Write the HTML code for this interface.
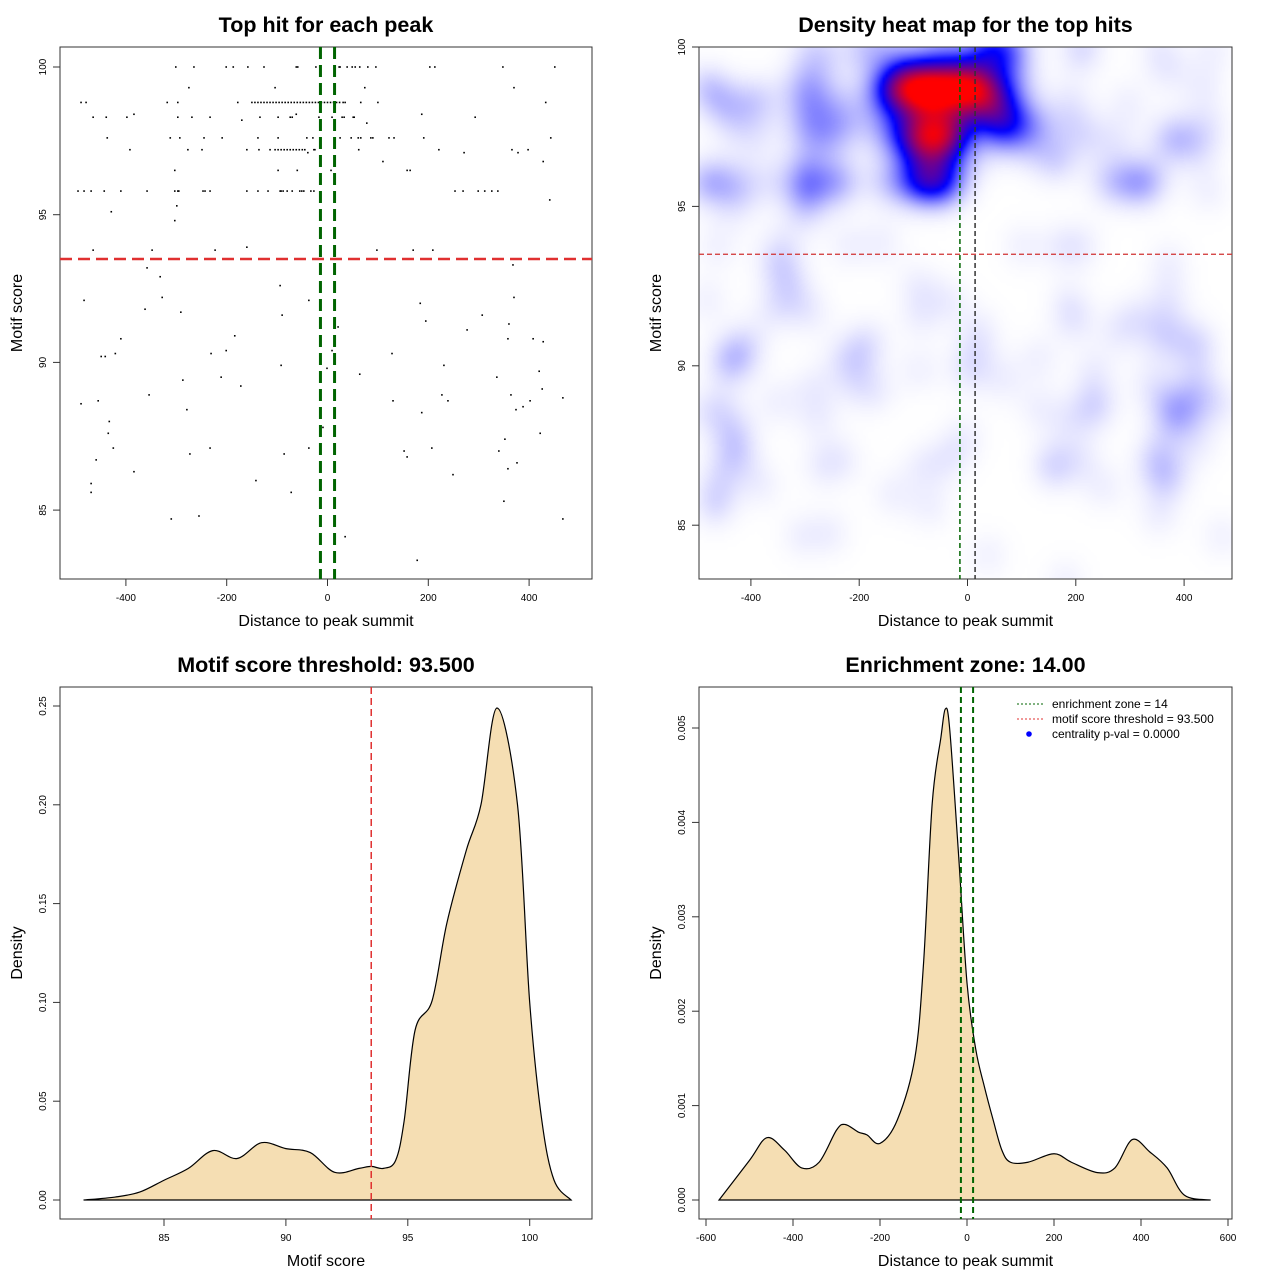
<!DOCTYPE html>
<html><head><meta charset="utf-8"><style>
body{margin:0;background:#fff}
#page{position:relative;width:1280px;height:1280px;overflow:hidden;background:#fff;font-family:"Liberation Sans",sans-serif}
#heat{position:absolute;left:699px;top:47px;width:533px;height:532px}
#ov{position:absolute;left:0;top:0}
</style></head><body>
<div id="page">
<canvas id="heat" width="533" height="532"></canvas>
<svg id="ov" width="1280" height="1280" xmlns="http://www.w3.org/2000/svg"></svg>
</div>
<script>
// ---- data ----
const hits = [
[-301,100],[-265,100],[-201,100],[-187,100],[-158,100],[-126,100],[-62,100],[-59,100],[-23,100],[23,100],[25,100],[39,100],[49,100],[55,100],[64,100],[80,100],[96,100],[203,100],[213,100],[348,100],[451,100],
[-275,99.3],[-104,99.3],[-15,99.3],[74,99.3],[370,99.3],
[-489,98.8],[-479,98.8],[-318,98.8],[-297,98.8],[-178,98.8],[31,98.8],[35,98.8],[66,98.8],[100,98.8],[433,98.8],
[-150,98.8],[-144,98.8],[-138,98.8],[-132,98.8],[-126,98.8],[-120,98.8],[-114,98.8],[-108,98.8],[-102,98.8],[-96,98.8],[-90,98.8],[-84,98.8],[-78,98.8],[-72,98.8],[-66,98.8],[-60,98.8],[-54,98.8],[-48,98.8],[-42,98.8],[-36,98.8],[-30,98.8],[-24,98.8],[-18,98.8],[-12,98.8],[-6,98.8],[0,98.8],[6,98.8],[12,98.8],[18,98.8],[24,98.8],
[-465,98.3],[-439,98.3],[-398,98.3],[-384,98.4],[-297,98.3],[-269,98.3],[-233,98.3],[-170,98.2],[-134,98.3],[-98,98.3],[-74,98.3],[-70,98.3],[-62,98.4],[-17,98.3],[9,98.3],[29,98.3],[33,98.3],[51,98.3],[53,98.3],[78,98.1],[187,98.4],[293,98.3],
[-437,97.6],[-312,97.6],[-293,97.6],[-245,97.6],[-209,97.6],[-138,97.6],[-98,97.6],[-41,97.6],[-29,97.6],[-15,97.6],[25,97.6],[47,97.6],[61,97.6],[66,97.6],[86,97.6],[90,97.6],[122,97.6],[132,97.6],[191,97.6],[443,97.6],
[-392,97.2],[-277,97.2],[-249,97.2],[-160,97.2],[-136,97.2],[-114,97.2],[-45,97.2],[-39,97.1],[-27,97.2],[-25,97.2],[62,97.2],[221,97.2],[271,97.1],[366,97.2],[378,97.1],[398,97.2],
[-104,97.2],[-98,97.2],[-92,97.2],[-86,97.2],[-80,97.2],[-74,97.2],[-68,97.2],[-62,97.2],[-56,97.2],[-50,97.2],
[110,96.8],[428,96.8],
[-303,96.5],[-98,96.5],[-60,96.5],[7,96.5],[158,96.5],[164,96.5],
[-495,95.8],[-483,95.8],[-469,95.8],[-443,95.8],[-410,95.8],[-358,95.8],[-303,95.8],[-297,95.8],[-295,95.8],[-247,95.8],[-243,95.8],[-233,95.8],[-160,95.8],[-138,95.8],[-118,95.8],[-94,95.8],[-92,95.8],[-88,95.8],[-80,95.8],[-70,95.8],[-55,95.8],[-51,95.8],[-47,95.8],[-33,95.8],[-27,95.8],[253,95.8],[269,95.8],[299,95.8],[312,95.8],[326,95.8],[338,95.8],
[441,95.5],[-299,95.3],[-429,95.1],[-303,94.8],[-160,93.9],
[-465,93.8],[-348,93.8],[-223,93.8],[98,93.8],[170,93.8],[209,93.8],
[-358,93.2],[-332,92.9],[-94,92.6],[-483,92.1],[-328,92.2],[-37,92.1],[184,92.0],[370,92.2],[368,93.3],[-362,91.8],[-291,91.7],[-90,91.6],[195,91.4],[307,91.6],[360,91.3],[21,91.2],[277,91.1],[-410,90.8],[-184,90.9],[358,90.8],[408,90.8],[428,90.7],[-449,90.2],[-441,90.2],[-421,90.3],[-231,90.3],[-201,90.4],[9,90.4],[128,90.3],[-92,89.9],[-1,89.8],[231,89.9],[64,89.6],[-287,89.4],[-211,89.5],[-172,89.2],[336,89.5],[420,89.7],[426,89.1],[-354,88.9],[-489,88.6],[-455,88.7],[-279,88.4],[130,88.7],[227,88.9],[239,88.7],[364,88.9],[402,88.7],[467,88.8],[388,88.5],[374,88.4],[187,88.3],[-433,88.0],[-435,87.6],[422,87.6],[-9,87.8],[-425,87.1],[-273,86.9],[-233,87.1],[-86,86.9],[-37,87.1],[152,87.0],[158,86.8],[207,87.1],[352,87.4],[340,87.0],[376,86.6],[358,86.4],[-459,86.7],[-384,86.3],[-142,86.0],[249,86.2],[-469,85.9],[-469,85.6],[-72,85.6],[350,85.3],[-310,84.7],[-255,84.8],[467,84.7],[35,84.1],[178,83.3]
];
const scoreX = [81.7,83,84,85,86,87,88,89,90,91,92,93,93.5,94,94.5,94.85,95.3,96,96.6,97.4,98,98.66,99.5,100,100.5,101,101.7];
const scoreD = [0,0.0015,0.004,0.01,0.016,0.025,0.021,0.029,0.026,0.024,0.014,0.016,0.017,0.016,0.02,0.04,0.086,0.101,0.14,0.177,0.2,0.249,0.2,0.1,0.04,0.01,0];
const distX = [-570,-500,-460,-420,-380,-340,-300,-280,-250,-230,-200,-160,-120,-100,-80,-60,-50,-40,-20,0,20,40,60,80,100,140,200,240,300,340,380,420,460,500,560];
const distD = [0,0.00042,0.00066,0.00053,0.00034,0.0004,0.00074,0.0008,0.00072,0.00069,0.0006,0.00085,0.0015,0.0025,0.0042,0.0049,0.0052,0.005,0.0037,0.0023,0.0016,0.0012,0.00085,0.00053,0.0004,0.0004,0.00049,0.0004,0.00029,0.00034,0.00064,0.00051,0.00034,0.00005,0];
const distTicks1 = [-400,-200,0,200,400];
const scoreTicks1 = [85,90,95,100];
const scoreTicks3 = [85,90,95,100];
const densTicks3 = [0,0.05,0.10,0.15,0.20,0.25];
const densLabels3 = ["0.00","0.05","0.10","0.15","0.20","0.25"];
const distTicks4 = [-600,-400,-200,0,200,400,600];
const densTicks4 = [0,0.001,0.002,0.003,0.004,0.005];
const densLabels4 = ["0.000","0.001","0.002","0.003","0.004","0.005"];
const zone = [-14,14];
const threshold = 93.5;

// ---- scales ----
const p1x = d => 327.5 + d*0.504, p1y = s => 67 + (100-s)*29.54;
const p2x = d => 967.5 + d*0.5415, p2y = s => 47 + (100-s)*31.88;
const p3x = s => 164 + (s-85)*24.38, p3y = v => 1200 - v*1976;
const p4x = d => 967 + d*0.435, p4y = v => 1200 - v*94400;

const svg = document.getElementById('ov');
const NS = 'http://www.w3.org/2000/svg';
function mk(tag, attrs, parent){const e=document.createElementNS(NS,tag);for(const k in attrs)e.setAttribute(k,attrs[k]);(parent||svg).appendChild(e);return e;}
function txt(x,y,s,size,opts){const e=mk('text',{x:x,y:y,'font-size':size,'text-anchor':'middle','font-family':'Liberation Sans, sans-serif',fill:'#000'});if(opts&&opts.bold)e.setAttribute('font-weight','bold');if(opts&&opts.rot)e.setAttribute('transform','rotate(-90 '+x+' '+y+')');if(opts&&opts.anchor)e.setAttribute('text-anchor',opts.anchor);e.textContent=s;return e;}

function panel(box, title, xlab, ylab, xt, xl, xs, yt, yl, ys){
  const r=mk('rect',{x:box[0],y:box[1],width:box[2]-box[0],height:box[3]-box[1],fill:'none',stroke:'#333','stroke-width':1});
  
  
  const t=txt((box[0]+box[2])/2,box[1]-15,title,21.5,{bold:true});
  
  
  const a=txt((box[0]+box[2])/2,box[3]+47,xlab,16);
  
  
  const b=txt(box[0]-38,(box[1]+box[3])/2,ylab,16,{rot:true});
  
  
  const yb=box[3];
  const ax=mk('line',{x1:xs(xt[0]),x2:xs(xt[xt.length-1]),y1:yb,y2:yb,stroke:'#333'});
  
  
  xt.forEach((v,i)=>{const X=xs(v);mk('line',{x1:X,x2:X,y1:yb,y2:yb+7,stroke:'#333'});
    const l=txt(X,yb+22,xl[i],10);
    
    });
  const xa=box[0];
  const ay=mk('line',{x1:xa,x2:xa,y1:ys(yt[0]),y2:ys(yt[yt.length-1]),stroke:'#333'});
  
  
  yt.forEach((v,i)=>{const Y=ys(v);mk('line',{x1:xa,x2:xa-7,y1:Y,y2:Y,stroke:'#333'});
    const l=txt(xa-14,Y,yl[i],10,{rot:true});
    
    });
}
function vline(x,y1,y2,col,w,dash,name){const l=mk('line',{x1:x,x2:x,y1:y1,y2:y2,stroke:col,'stroke-width':w,'stroke-dasharray':dash});
  
  }
function hline(y,x1,x2,col,w,dash,name){const l=mk('line',{x1:x1,x2:x2,y1:y,y2:y,stroke:col,'stroke-width':w,'stroke-dasharray':dash});
  
  }
function smooth(pts){let d='M'+pts[0][0]+','+pts[0][1];for(let i=0;i<pts.length-1;i++){const p0=pts[i-1]||pts[i],p1=pts[i],p2=pts[i+1],p3=pts[i+2]||p2;
  d+=' C'+(p1[0]+(p2[0]-p0[0])/6)+','+(p1[1]+(p2[1]-p0[1])/6)+' '+(p2[0]-(p3[0]-p1[0])/6)+','+(p2[1]-(p3[1]-p1[1])/6)+' '+p2[0]+','+p2[1];}return d;}

// ---- panel 1: scatter ----
panel([60,47,592,579],'Top hit for each peak','Distance to peak summit','Motif score',distTicks1,distTicks1.map(String),p1x,scoreTicks1,scoreTicks1.map(String),p1y);
hits.forEach(h=>{const c=mk('rect',{x:p1x(h[0])-0.8,y:p1y(h[1])-0.8,width:1.6,height:1.6,fill:'#000'});
  
  });
hline(p1y(threshold),60,592,'#e03030',2.5,'12,6','threshold-line');
vline(p1x(zone[0]),47,579,'#006400',3,'12,6','zone-left-line');
vline(p1x(zone[1]),47,579,'#006400',3,'12,6','zone-right-line');

// ---- panel 2: heatmap ----
(function(){
  const cv=document.getElementById('heat'),ctx=cv.getContext('2d');
  const W=533,H=532,st=3,gw=Math.ceil(W/st),gh=Math.ceil(H/st);
  const pts=hits.map(h=>[p2x(h[0])-699,p2y(h[1])-47]);
  const g=new Float32Array(gw*gh);let mx=0;const sx2=2*17*17,sy2=2*19*19;
  for(let j=0;j<gh;j++)for(let i=0;i<gw;i++){const x=i*st,y=j*st;let s=0;
    for(const p of pts){const dx=x-p[0],dy=y-p[1];const q=dx*dx/sx2+dy*dy/sy2;if(q<9)s+=Math.exp(-q);}
    g[j*gw+i]=s;if(s>mx)mx=s;}
  const img=ctx.createImageData(gw,gh);
  for(let k=0;k<gw*gh;k++){let t=g[k]/mx;let r,gg,b;
    if(t<0.45){const u=Math.pow(t/0.45,1.5);r=255*(1-u);gg=255*(1-u);b=255;}
    else if(t<0.88){const u=(t-0.45)/0.43;r=255*u;gg=0;b=255*(1-u);}
    else{r=255;gg=0;b=0;}
    img.data[k*4]=r;img.data[k*4+1]=gg;img.data[k*4+2]=b;img.data[k*4+3]=255;}
  const off=document.createElement('canvas');off.width=gw;off.height=gh;off.getContext('2d').putImageData(img,0,0);
  ctx.imageSmoothingEnabled=true;ctx.drawImage(off,0,0,gw*st,gh*st);
})();
panel([699,47,1232,579],'Density heat map for the top hits','Distance to peak summit','Motif score',distTicks1,distTicks1.map(String),p2x,scoreTicks1,scoreTicks1.map(String),p2y);
hline(p2y(threshold),699,1232,'#d03030',1.2,'5,3','threshold-line');
vline(p2x(zone[0]),47,579,'#006400',1.5,'5,3','zone-left-line');
vline(p2x(zone[1]),47,579,'#333',1.5,'5,3','zone-right-line');

// ---- panel 3: score density ----
panel([60,687,592,1219],'Motif score threshold: 93.500','Motif score','Density',scoreTicks3,scoreTicks3.map(String),p3x,densTicks3,densLabels3,p3y);
const a3=mk('path',{d:smooth(scoreX.map((v,i)=>[p3x(v),p3y(scoreD[i])]))+' Z',fill:'#f5deb3',stroke:'#000','stroke-width':1.2});


vline(p3x(threshold),687,1219,'#e03030',1.5,'7,4','threshold-line');

// ---- panel 4: distance density ----
panel([699,687,1232,1219],'Enrichment zone: 14.00','Distance to peak summit','Density',distTicks4,distTicks4.map(String),p4x,densTicks4,densLabels4,p4y);
const a4=mk('path',{d:smooth(distX.map((v,i)=>[p4x(v),p4y(distD[i])]))+' Z',fill:'#f5deb3',stroke:'#000','stroke-width':1.2});


vline(p4x(zone[0]),687,1219,'#006400',2,'6,4','zone-left-line');
vline(p4x(zone[1]),687,1219,'#006400',2,'6,4','zone-right-line');
// legend
const lg=mk('g',{});


mk('line',{x1:1017,x2:1043,y1:704,y2:704,stroke:'#006400','stroke-dasharray':'2,2'},lg);
mk('line',{x1:1017,x2:1043,y1:719,y2:719,stroke:'#e03030','stroke-dasharray':'2,2'},lg);
mk('circle',{cx:1029,cy:734,r:2.8,fill:'#0000ff'},lg);
[['enrichment zone = 14',708],['motif score threshold = 93.500',723],['centrality p-val = 0.0000',738]].forEach(e=>{
  const t=txt(1052,e[1],e[0],12,{anchor:'start'});
  
  
  lg.appendChild(t);});
</script>
</body></html>
